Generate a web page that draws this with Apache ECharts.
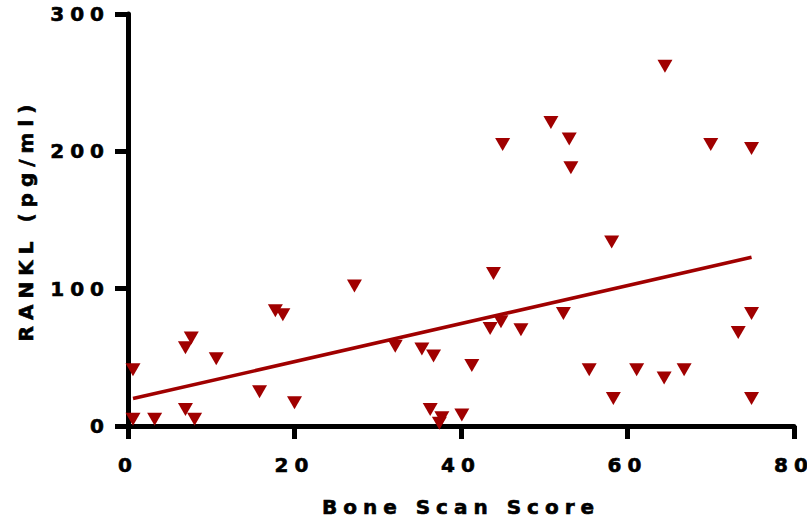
<!DOCTYPE html>
<html>
<head>
<meta charset="utf-8">
<script src="https://cdn.jsdelivr.net/npm/echarts@6/dist/echarts.min.js"></script>
<style>
  html, body { margin: 0; padding: 0; background: #fff; }
  #chart { width: 807px; height: 519px; }
  /* the original graph uses widely spaced lettering */
  #chart text { letter-spacing: 6px; }
</style>
</head>
<body>
<div id="chart"></div>
<script>
// Bone scan score vs RANKL
const boneScanScore = [
  0.6, 0.6, 3.2, 6.9, 8.0, 6.9, 7.6, 10.6, 15.8, 17.7, 18.6, 20.0,
  27.2, 32.1, 35.3, 36.7, 36.3, 37.7, 37.4, 40.1, 41.3, 43.9, 43.5, 44.8,
  45.0, 47.2, 50.8, 52.3, 53.0, 53.2, 55.4, 58.1, 58.3, 61.1, 64.5, 64.4,
  66.8, 70.0, 73.3, 74.9, 74.9, 74.9
];
const rankl = [
  41, 5, 5, 12, 5, 57, 64, 49, 25, 84, 81, 17,
  102, 58, 56, 51, 12, 6, 2, 8, 44, 111, 71, 76,
  205, 70, 221, 82, 209, 188, 41, 134, 20, 41, 262, 35,
  41, 205, 68, 202, 82, 20
];
// regression line end points
const fitX = [0.6, 74.9];
const fitY = [20, 122.9];

const xTicks = { min: 0, max: 80, interval: 20 };
const yTicks = { min: 0, max: 300, interval: 100 };

const red = '#a00000';
const font = '"DejaVu Sans", Arial, sans-serif';
const textStyle = {
  color: '#000',
  fontSize: 20,
  fontWeight: 'bold',
  fontFamily: font,
  textBorderColor: '#000',
  textBorderWidth: 0.6,
};

let myChart = echarts.init(document.getElementById('chart'), null, { renderer: 'svg' });

const axisCommon = {
  axisLine: { show: true, onZero: false, lineStyle: { color: '#000', width: 5 } },
  axisTick: { show: true, length: 13, lineStyle: { color: '#000', width: 5 } },
  splitLine: { show: false },
  nameTextStyle: textStyle,
};

let option = {
  animation: false,
  backgroundColor: '#fff',
  // keep the plot box fixed, the "80" label is allowed to run off the edge
  grid: { left: 128, right: 13, top: 14, bottom: 93, outerBoundsMode: 'none' },
  xAxis: Object.assign({}, axisCommon, {
    type: 'value',
    min: xTicks.min,
    max: xTicks.max,
    interval: xTicks.interval,
    name: 'Bone Scan Score',
    nameLocation: 'middle',
    nameGap: 71,
    axisLabel: Object.assign({ margin: 29 }, textStyle),
  }),
  yAxis: Object.assign({}, axisCommon, {
    type: 'value',
    min: yTicks.min,
    max: yTicks.max,
    interval: yTicks.interval,
    name: 'RANKL (pg/ml)',
    nameLocation: 'middle',
    nameGap: 92,
    axisLabel: Object.assign({ margin: 18 }, textStyle),
  }),
  series: [
    {
      type: 'line',
      data: fitX.map((x, i) => [x, fitY[i]]),
      symbol: 'none',
      lineStyle: { color: red, width: 3.5 },
      z: 2,
    },
    {
      type: 'scatter',
      data: boneScanScore.map((x, i) => [x, rankl[i]]),
      symbol: 'triangle',
      symbolRotate: 180,
      symbolSize: [15, 13],
      itemStyle: { color: red, opacity: 1 },
      z: 3,
    },
  ],
};

myChart.setOption(option);
</script>
</body>
</html>
